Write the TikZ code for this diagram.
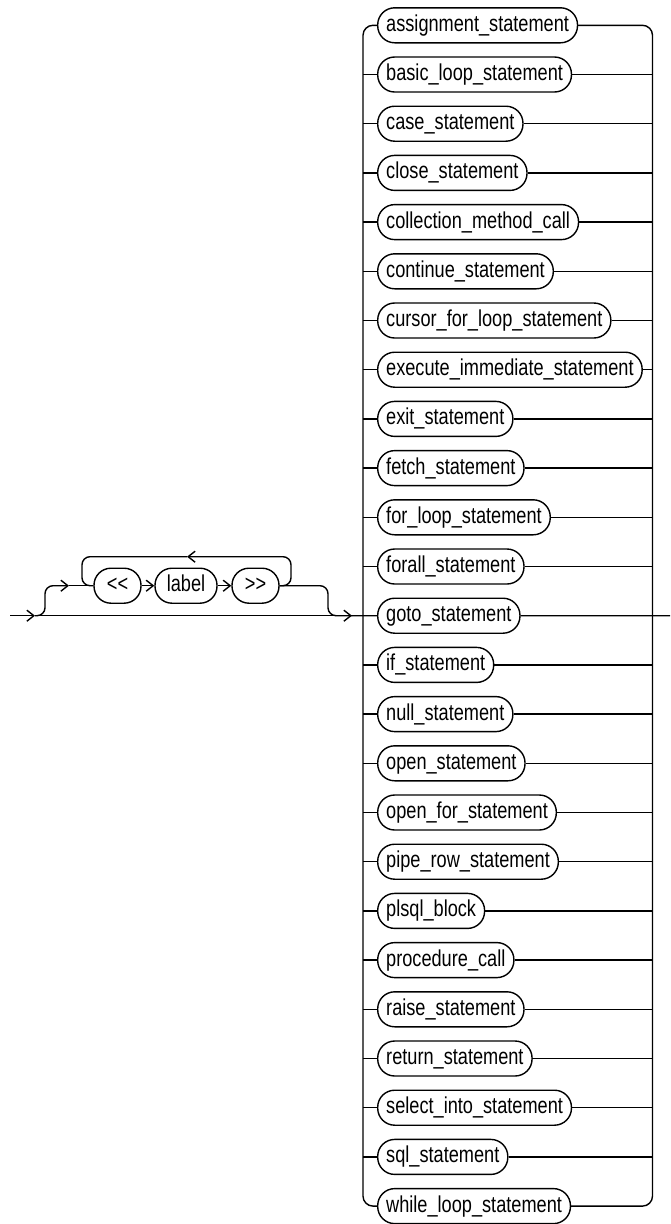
\documentclass[tikz,border=0pt]{standalone}
\usepackage{fontspec}
\setmainfont{Liberation Sans}[FakeStretch=0.79]
\usetikzlibrary{arrows.meta}
\begin{document}
\begin{tikzpicture}[x=1pt,y=-1pt,line width=1.4pt,
  term/.style={draw,rounded corners=17pt,minimum height=35pt,inner xsep=8.5pt,inner ysep=0pt,
    text height=17pt,text depth=5pt,font=\fontsize{23}{27}\selectfont},
  arr/.style={-{Straight Barb[length=7pt,width=11pt]}},
  rail/.style={rounded corners=10pt}]
\useasboundingbox (0,0) rectangle (670,1224);
% right column of statements
\foreach \t [count=\i from 0] in {assignment\_statement,basic\_loop\_statement,case\_statement,
  close\_statement,collection\_method\_call,continue\_statement,cursor\_for\_loop\_statement,
  execute\_immediate\_statement,exit\_statement,fetch\_statement,for\_loop\_statement,
  forall\_statement,goto\_statement,if\_statement,null\_statement,open\_statement,
  open\_for\_statement,pipe\_row\_statement,plsql\_block,procedure\_call,raise\_statement,
  return\_statement,select\_into\_statement,sql\_statement,while\_loop\_statement}
  \node[term,anchor=west] (b\i) at (377,25.3+49.2*\i) {\t};
\coordinate (LT) at (363,25.3);
\coordinate (LB) at (363,1206.1);
\coordinate (RT) at (652.5,25.3);
\coordinate (RB) at (652.5,1206.1);
\draw[rail] (b0.west) -- (LT) -- (LB) -- (b24.west);
\draw[rail] (b0.east) -- (RT) -- (RB) -- (b24.east);
\foreach \i in {1,...,23}{
  \draw (b\i.west) -- (b\i.west -| LT);
  \draw (b\i.east) -- (b\i.east -| RT);
}
% left part
\node[term,minimum width=47pt] (lt) at (117.5,585.7) {<\kern0pt<};
\node[term,minimum width=62pt] (lb) at (186,585.7) {label};
\node[term,minimum width=47pt] (gt) at (255.5,585.7) {>\kern0pt>};
\coordinate (in) at (10,615.7);
\coordinate (a1) at (35,615.7);
\coordinate (a2) at (352,615.7);
\coordinate (s1) at (45,615.7);
\coordinate (s2) at (45,585.7);
\coordinate (u1) at (69,585.7);
\coordinate (lp1) at (82,585.7);
\coordinate (lp2) at (82,556.7);
\coordinate (lpa) at (187,556.7);
\coordinate (lp3) at (291,556.7);
\coordinate (lp4) at (291,585.7);
\coordinate (e1) at (328,585.7);
\coordinate (e2) at (328,615.7);
\coordinate (out) at (670,615.7);
\draw[arr] (in) -- (a1);
\draw[arr] (a1) -- (a2);
\draw (a2) -- (b12.west);
\draw (b12.east) -- (out);
\draw[arr,rounded corners=8pt] (a1) -- (s1) -- (s2) -- (u1);
\draw (u1) -- (lt.west);
\draw[arr] (lt.east) -- (lb.west);
\draw[arr] (lb.east) -- (gt.west);
\draw[arr,rounded corners=8pt] (gt.east) -- (lp4) -- (lp3) -- (lpa);
\draw[rounded corners=8pt] (lpa) -- (lp2) -- (lp1) -- (lt.west);
\draw[rounded corners=8pt] (gt.east) -- (e1) -- (e2) -- (a2);
\end{tikzpicture}
\end{document}
